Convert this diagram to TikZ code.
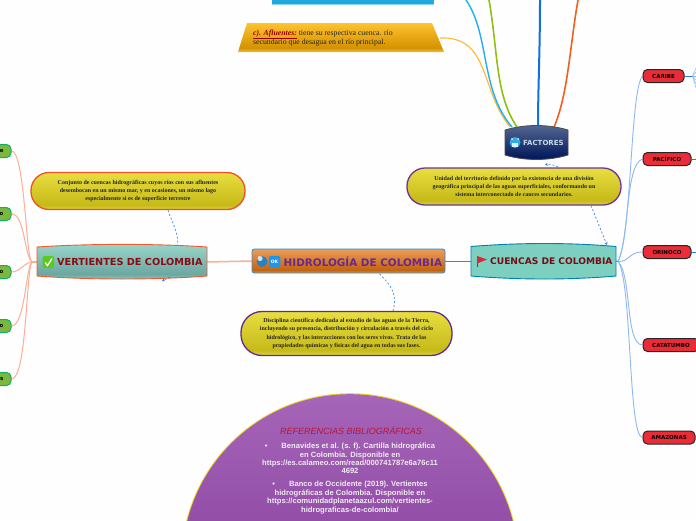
\documentclass[tikz,border=0pt]{standalone}
\usepackage{fontspec}
\setmainfont{Liberation Serif}
\newfontfamily\headf{DejaVu Sans}
\newfontfamily\reff{Liberation Sans}
\usetikzlibrary{backgrounds,arrows.meta}
\definecolor{dashblue}{HTML}{3F86E6}
\definecolor{lineblue}{HTML}{8DB8F2}
\definecolor{linesalmon}{HTML}{FBAE98}
\definecolor{yshadeA}{HTML}{E8DE40}\definecolor{yshadeB}{HTML}{DDD43A}\definecolor{yshadeC}{HTML}{C6BA18}
\definecolor{vtA}{HTML}{98D6CA}\definecolor{vtB}{HTML}{8CCAC0}\definecolor{vtC}{HTML}{6CA8A2}
\definecolor{ohA}{HTML}{EC9C58}\definecolor{ohB}{HTML}{E09850}\definecolor{ohC}{HTML}{C4640F}
\definecolor{gaA}{HTML}{FFC230}\definecolor{gaB}{HTML}{F4C040}\definecolor{gaC}{HTML}{D49200}
\definecolor{nfA}{HTML}{566A94}\definecolor{nfB}{HTML}{14286A}\definecolor{nfC}{HTML}{041A5C}
\definecolor{prA}{HTML}{A565B8}\definecolor{prB}{HTML}{762A8E}
\definecolor{cRed}{HTML}{EA2C38}\definecolor{cGreen}{HTML}{7CB840}\definecolor{cGreenB}{HTML}{10B060}
\definecolor{cTop}{HTML}{20A8E0}\definecolor{cTopL}{HTML}{8CD7F5}
\definecolor{cFace}{HTML}{32AAE6}\definecolor{cFactT}{HTML}{C8D8EB}
\definecolor{cOrgB}{HTML}{F05028}\definecolor{cPur1}{HTML}{6E3296}\definecolor{cPur2}{HTML}{642891}
\definecolor{cVertB}{HTML}{F05A32}\definecolor{cVertT}{HTML}{8C0A14}\definecolor{cCheck}{HTML}{5AC81E}
\definecolor{cTeal}{HTML}{7DD0C0}\definecolor{cCuenB}{HTML}{0080B0}\definecolor{cCuenT}{HTML}{780A14}
\definecolor{cFlag}{HTML}{DC2832}
\definecolor{cHidB}{HTML}{3090D0}\definecolor{cHidT}{HTML}{692891}
\definecolor{cGlobe}{HTML}{2882BE}\definecolor{cGlobeL}{HTML}{D2E1EB}\definecolor{cOk}{HTML}{1E96F0}
\definecolor{cRing}{HTML}{EBD728}\definecolor{cRefT}{HTML}{B91437}\definecolor{cRefB}{HTML}{F0EBF0}
\definecolor{lnGold}{HTML}{FFB830}\definecolor{lnCyan}{HTML}{20B0F0}\definecolor{lnGreen}{HTML}{90C010}
\definecolor{lnBlue}{HTML}{1070E0}\definecolor{lnOrange}{HTML}{F06020}\definecolor{lnMid}{HTML}{4682D2}
\definecolor{lnStub}{HTML}{2878E6}
\pgfdeclareverticalshading{yellowpill}{100bp}{color(0bp)=(yshadeB);color(25bp)=(yshadeB);color(31bp)=(yshadeC);color(75bp)=(yshadeA);color(100bp)=(yshadeA)}
\pgfdeclareverticalshading{tealV}{100bp}{color(0bp)=(vtB);color(25bp)=(vtB);color(33bp)=(vtC);color(75bp)=(vtA);color(100bp)=(vtA)}
\pgfdeclareverticalshading{orangeH}{100bp}{color(0bp)=(ohB);color(25bp)=(ohB);color(31bp)=(ohC);color(75bp)=(ohA);color(100bp)=(ohA)}
\pgfdeclareverticalshading{goldA}{100bp}{color(0bp)=(gaB);color(25bp)=(gaB);color(32bp)=(gaC);color(75bp)=(gaA);color(100bp)=(gaA)}
\pgfdeclareverticalshading{navyF}{100bp}{color(0bp)=(nfB);color(25bp)=(nfB);color(30bp)=(nfC);color(75bp)=(nfA);color(100bp)=(nfA)}
\pgfdeclareverticalshading{purpleR}{100bp}{color(0bp)=(prB);color(25bp)=(prB);color(75bp)=(prA);color(100bp)=(prA)}
\tikzset{
  notepill/.style={shading=yellowpill,line width=1.3pt,align=center,inner sep=0pt,
    font=\fontsize{6}{8.1}\selectfont\bfseries,text=black!85},
  rednode/.style={fill=cRed,draw=black!85,line width=1pt,
    rounded corners=4.5pt,minimum height=13pt,inner sep=0pt,
    font=\headf\fontsize{5.5}{6}\selectfont\bfseries,text=black},
  greennode/.style={fill=cGreen,draw=cGreenB,line width=1pt,
    rounded corners=4.5pt,minimum width=40pt,minimum height=13pt,inner sep=0pt,
    font=\headf\fontsize{5.5}{6}\selectfont\bfseries,text=black},
  branch/.style={draw=lineblue,line width=.9pt},
  salmonline/.style={draw=linesalmon,line width=1pt},
  dashlink/.style={draw=dashblue,line width=.7pt,dash pattern=on 2pt off 2pt},
  headtext/.style={font=\headf\fontsize{#1}{#1}\selectfont\bfseries,inner sep=0pt}
}
\begin{document}
\begin{tikzpicture}[x=1pt,y=-1pt]
\useasboundingbox (0,0) rectangle (696,520);
\begin{pgfonlayer}{background}
\fill[white!99!gray] (0,0) rectangle (696,520);
\end{pgfonlayer}

% --- top box and Afluentes
\fill[cTop] (272,0) rectangle (434,3.5);
\draw[cTopL,line width=.7pt] (272,4) -- (434,4);
\shade[shading=goldA] (238,52) -- (247,23) -- (432,23) -- (444,52) -- cycle;
\node[anchor=north west,inner sep=0pt,align=left,font=\fontsize{7.75}{9.2}\selectfont,text=black!85] (aflu) at (253,29.5)
  {\textcolor{red!60!black}{\bfseries\itshape\underline{c). Afluentes:}} tiene su respectiva cuenca. río\\secundario que desagua en el río principal.};
\coordinate (afluR) at (440,38);

% --- Factores
\shade[shading=navyF,draw=black!70,line width=.8pt] (505,130) .. controls (525,124) and (548,124) .. (568,130)
  -- (568,155) .. controls (548,161) and (525,161) .. (505,155) -- cycle;
\node[minimum width=63pt,minimum height=33pt,inner sep=0pt] (fact) at (536.5,142.5) {};
\node[headtext=7,text=cFactT,anchor=west] (factT) at (523,142.5) {FACTORES};
\fill[cFace] (515,142.5) circle (5.5);
\fill[white!85!cyan] (512,139) circle (1) (518,139) circle (1);
\fill[white!85!cyan] (512,143) rectangle (518,147);

% --- yellow notes
\node[notepill,draw=cOrgB,rounded corners=18pt,minimum width=214pt,minimum height=37pt] (note1) at (138,191)
  {Conjunto de cuencas hidrográficas cuyos ríos con sus afluentes\\desembocan en un mismo mar, y en ocasiones, un mismo lago\\especialmente si es de superficie terrestre};
\node[notepill,draw=cPur1,rounded corners=18pt,minimum width=214pt,minimum height=37pt] (note2) at (514,186.5)
  {Unidad del territorio definido por la existencia de una división\\geográfica principal de las aguas superficiales, conformando un\\sistema interconectado de cauces secundarios.};
\node[notepill,draw=cPur2,rounded corners=21pt,minimum width=211pt,minimum height=44pt] (note3) at (346.5,333.5)
  {Disciplina científica dedicada al estudio de las aguas de la Tierra,\\incluyendo su presencia, distribución y circulación a través del ciclo\\hidrológico, y las interacciones con los seres vivos. Trata de las\\propiedades químicas y físicas del agua en todas sus fases.};

% --- main topics
\shade[shading=tealV,draw=cVertB,line width=.9pt] (37,247) .. controls (90,243.5) and (155,243.5) .. (207,247)
  -- (207,276) .. controls (155,280) and (90,280) .. (37,276) -- cycle;
\node[minimum width=170pt,minimum height=34pt,inner sep=0pt] (vert) at (122,262) {};
\node[headtext=9.7,text=cVertT,anchor=west] (vertT) at (57,262) {VERTIENTES DE COLOMBIA};
\fill[cCheck,rounded corners=1.5pt] (42.5,256) rectangle (54,268);
\draw[white,line width=1.3pt] (45,262.5) -- (47.5,265.5) -- (52,258.5);

\filldraw[fill=cTeal,draw=cCuenB,line width=.9pt] (471,246.5) .. controls (520,242.5) and (570,242.5) .. (616,246.5)
  -- (616,276) .. controls (570,280) and (520,280) .. (471,276) -- cycle;
\node[minimum width=145pt,minimum height=34pt,inner sep=0pt] (cuen) at (543.5,261) {};
\node[headtext=9.1,text=cCuenT,anchor=west] (cuenT) at (490,261.5) {CUENCAS DE COLOMBIA};
\draw[black!70,line width=.5pt] (477,256) -- (477,267);
\fill[cFlag] (477,256) -- (487,259.5) -- (477,263.5) -- cycle;

\node[shading=orangeH,draw=cHidB,line width=.9pt,rounded corners=2.5pt,minimum width=193pt,minimum height=24pt,inner sep=0pt] (hidro) at (348.5,261) {};
\node[headtext=10.4,text=cHidT,anchor=west] (hidroT) at (283.5,261.5) {HIDROLOGÍA DE COLOMBIA};
\fill[cGlobe] (262,261.5) circle (5.5);
\fill[cGlobeL] (260,258.5) circle (2.6);
\node[fill=cOk,rounded corners=1.5pt,minimum width=11.5pt,minimum height=11.5pt,inner sep=0pt,text=white,font=\headf\fontsize{4.5}{5}\selectfont\bfseries] (okbadge) at (274.5,261.5) {OK};

% --- red nodes
\node[rednode,minimum width=41pt] (caribe) at (663.5,76) {CARIBE};
\node[rednode,minimum width=48pt] (pacifico) at (667,159) {PACÍFICO};
\node[rednode,minimum width=48pt] (orinoco) at (667,252) {ORINOCO};
\node[rednode,minimum width=56pt] (catatumbo) at (671,345) {CATATUMBO};
\node[rednode,minimum width=52pt] (amazonas) at (669,437.5) {AMAZONAS};

% --- green nodes (cut by the left margin)
\foreach \n/\y/\t in {g1/151/e,g2/214/o,g3/272/o,g4/326/o,g5/379/s}{
  \node[greennode,align=right,text width=25pt] (\n) at (-9,\y) {\t};
}

% --- references
\fill[cRing] (350,562) circle (168.8);
\shade[shading=purpleR] (350,562) circle (167.8);
\node[inner sep=0pt,text=cRefT,font=\reff\fontsize{9}{10}\selectfont\itshape] (reft) at (351,430.5) {REFERENCIAS BIBLIOGRÁFICAS};
\node[inner sep=0pt,align=center,text=cRefB,font=\reff\fontsize{7.6}{8.4}\selectfont\bfseries] (ref1) at (350,458.5)
 {•\hspace{14pt}Benavides et al. (s. f). Cartilla hidrográfica\\en Colombia. Disponible en\\https://es.calameo.com/read/000741787e6a76c11\\4692};
\node[inner sep=0pt,align=center,text=cRefB,font=\reff\fontsize{7.6}{8.4}\selectfont\bfseries] (ref2) at (350,497.5)
 {•\hspace{14pt}Banco de Occidente (2019). Vertientes\\hidrográficas de Colombia. Disponible en\\https://comunidadplanetaazul.com/vertientes-\\hidrograficas-de-colombia/};

% --- off-page ends and connectors behind the shapes
\coordinate (topCyan) at (466,0);
\coordinate (topGreen) at (489,0);
\coordinate (topBlue) at (540,0);
\coordinate (topOrange) at (578,0);
\coordinate (c1) at (696,68); \coordinate (c2) at (696,72); \coordinate (c3) at (696,76);
\coordinate (c4) at (696,80); \coordinate (c5) at (696,84); \coordinate (c6) at (696,88);
\coordinate (pEnd) at (696,159); \coordinate (oEnd) at (696,252);
\coordinate (cr) at (618,261.5);
\coordinate (vl) at (32,262);
\coordinate (d1a) at (162,281);
\coordinate (d2a) at (545,165);

\begin{pgfonlayer}{background}
\draw[lnGold,line width=1.1pt] (afluR) .. controls (490,36) and (480,90) .. (510,127);
\draw[lnCyan,line width=1.4pt] (topCyan) .. controls (490,35) and (480,90) .. (512,127);
\draw[lnGreen,line width=1.6pt] (topGreen) .. controls (498,50) and (495,95) .. (517,127);
\draw[lnBlue,line width=2pt] (topBlue) .. controls (540,50) and (538,90) .. (538,126);
\draw[lnOrange,line width=1.6pt] (topOrange) .. controls (570,45) and (568,95) .. (554,127);
\draw[draw=lnMid,line width=1pt] (hidro.east) -- (cuen.west);
\draw[draw=linesalmon,line width=1.5pt] (hidro.west) -- (vert.east);
\draw[lnStub,line width=1pt] (cuen.east) -- (cr);
\draw[branch] (cr) .. controls (632,235) and (630,90) .. (caribe.west);
\draw[branch] (cr) .. controls (630,235) and (625,165) .. (pacifico.west);
\draw[branch] (cr) .. controls (630,262) and (628,252) .. (orinoco.west);
\draw[branch] (cr) .. controls (632,275) and (625,345) .. (catatumbo.west);
\draw[branch] (cr) .. controls (632,280) and (628,437) .. (amazonas.west);
\draw[lnStub,line width=1pt] (caribe.east) -- ++(8,0) coordinate (cf);
\foreach \e in {c1,c2,c3,c4,c5,c6}{\draw[branch,line width=.5pt] (cf) -- (\e);}
\draw[lnStub,line width=1pt] (pacifico.east) -- (pEnd);
\draw[lnStub,line width=1pt] (orinoco.east) -- (oEnd);
\draw[salmonline,line width=1.5pt] (vert.west) -- (vl);
\draw[salmonline] (vl) .. controls (26,262) and (25,151) .. (g1.east);
\draw[salmonline] (vl) .. controls (24,255) and (25,214) .. (g2.east);
\draw[salmonline] (vl) .. controls (25,262) and (20,272) .. (g3.east);
\draw[salmonline] (vl) .. controls (26,266) and (25,326) .. (g4.east);
\draw[salmonline] (vl) .. controls (26,270) and (27,379) .. (g5.east);
\end{pgfonlayer}
% dashed links
\draw[dashlink] (hidro.south) ++(31,0.5) .. controls (385,280) and (399,290) .. (393,311);
\draw[dashlink] (note1.south) ++(30,0) .. controls (172,222) and (178,232) .. (178,245);
\draw[dashlink,-{Stealth[length=3pt,width=3.5pt]}] (170,277) -- (d1a);
\draw[dashlink,-{Stealth[length=3pt,width=3.5pt]}] (note2.south) ++(77,0) -- (607,245);
\draw[dashlink,-{Stealth[length=3pt,width=3.5pt]}] (558,167) .. controls (552,164) and (548,164) .. (d2a);
\end{tikzpicture}
\end{document}
